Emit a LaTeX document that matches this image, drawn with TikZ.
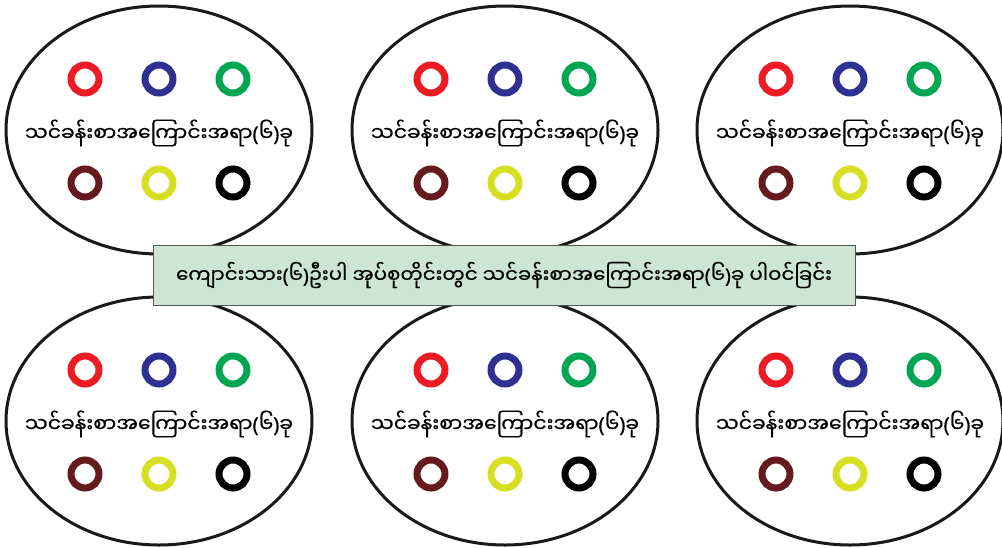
\documentclass[tikz,border=0pt]{standalone}
\usepackage{fontspec}
\newfontfamily\mya[Script=Myanmar,FakeBold=0.6]{Noto Sans Myanmar UI}
\newfontfamily\latn[FakeBold=0.6]{Noto Sans}
\newcommand\pl{{\latn(}}
\newcommand\pr{{\latn)}}
\definecolor{rred}{HTML}{ED1C24}
\definecolor{rblue}{HTML}{2E3192}
\definecolor{rgreen}{HTML}{00A651}
\definecolor{rbrown}{HTML}{651A1E}
\definecolor{ryellow}{HTML}{D7DF23}
\definecolor{boxfill}{HTML}{CDE6D3}
\definecolor{boxline}{HTML}{555555}
\usetikzlibrary{shapes.geometric}
\tikzset{
  oval/.style={draw=black!90, line width=3pt, ellipse, minimum width=306pt, minimum height=248pt, inner sep=0pt},
  ring/.style={circle, draw=#1, line width=7pt, minimum size=28pt, inner sep=0pt},
  lbl/.style={font=\mya\fontsize{20.3pt}{24pt}\selectfont, inner sep=0pt},
  banner/.style={draw=boxline, line width=1pt, fill=boxfill, minimum width=702pt, minimum height=60pt, inner sep=0pt, font=\mya\fontsize{19.8pt}{23pt}\selectfont}
}
\begin{document}
\begin{tikzpicture}[x=1pt,y=1pt]
\useasboundingbox (0,0) rectangle (1002,-547);
\foreach \cx/\cy/\n in {159/130/a,505/130/b,850/130/c,159/421/d,505/421/e,850/421/f}{
  \node[oval] (o\n) at (\cx,-\cy) {};
  \node[lbl] (t\n) at (\cx,-\cy-3) {သင်ခန်းစာအကြောင်းအရာ\pl၆\pr ခု};
  \node[ring=rred] (r1\n) at (\cx-74,-\cy+51) {};
  \node[ring=rblue] (r2\n) at (\cx,-\cy+51) {};
  \node[ring=rgreen] (r3\n) at (\cx+74,-\cy+51) {};
  \node[ring=rbrown] (r4\n) at (\cx-74,-\cy-53) {};
  \node[ring=ryellow] (r5\n) at (\cx,-\cy-53) {};
  \node[ring=black] (r6\n) at (\cx+74,-\cy-53) {};
}
\node[banner] (main) at (504,-275) {ကျောင်းသား\pl၆\pr ဦးပါ အုပ်စုတိုင်းတွင် သင်ခန်းစာအကြောင်းအရာ\pl၆\pr ခု ပါဝင်ခြင်း};
\end{tikzpicture}
\end{document}
